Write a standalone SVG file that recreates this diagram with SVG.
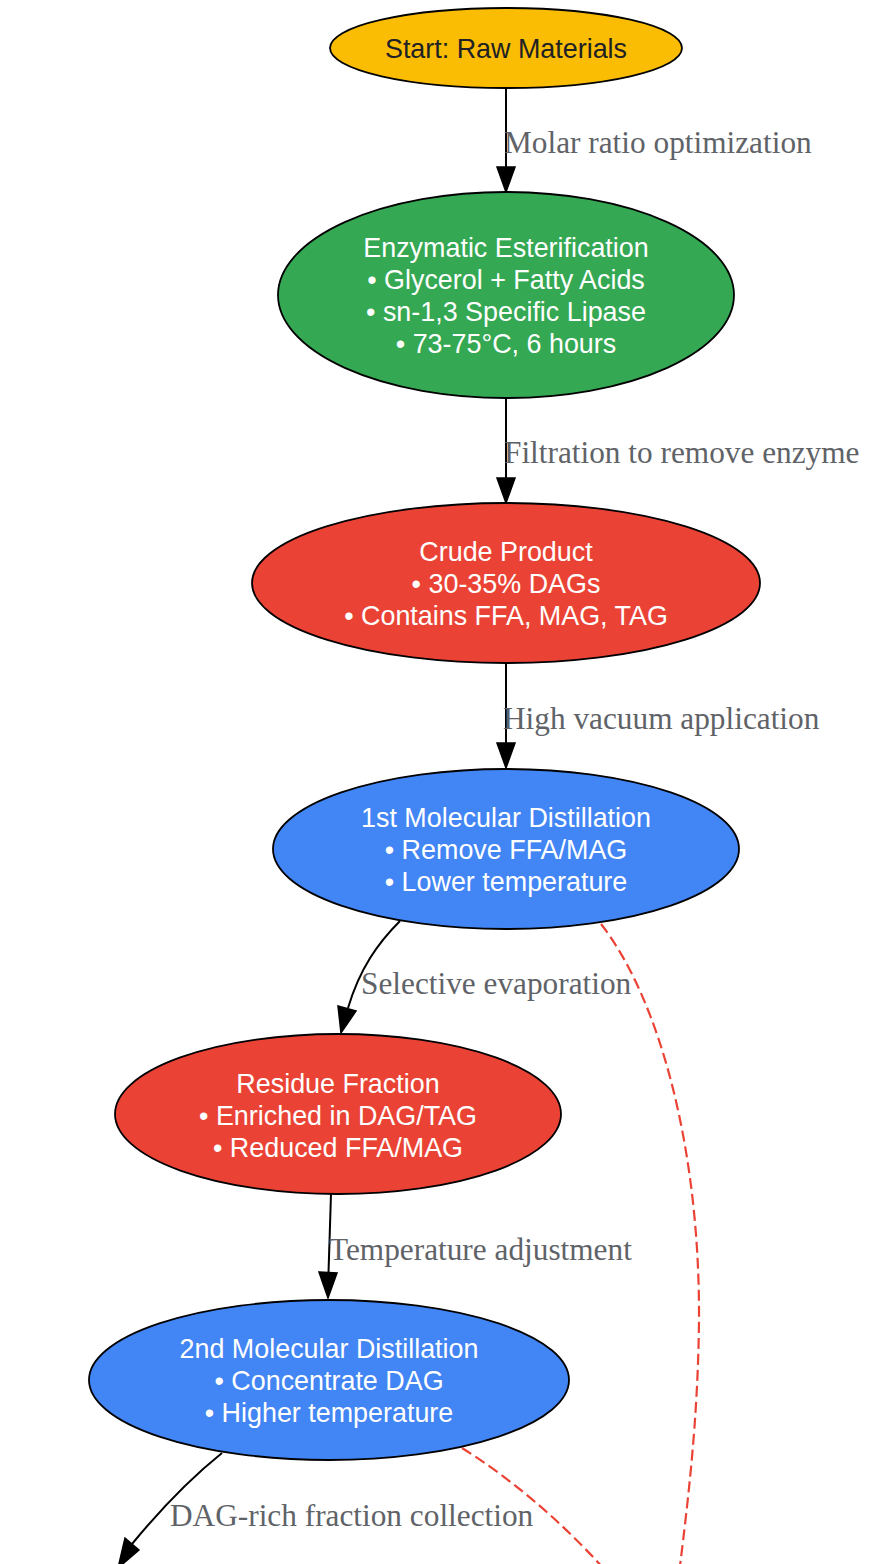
<svg xmlns="http://www.w3.org/2000/svg" width="870" height="1564" viewBox="0 0 870 1564">
<style>
.node ellipse{stroke:#000;stroke-width:1.8}
.nt{font-family:"Liberation Sans",Arial,sans-serif;font-size:26.9px;text-anchor:middle;fill:#fff}
.el{font-family:"Liberation Serif","Times New Roman",serif;font-size:31.3px;fill:#5f6368}
.edge{fill:none;stroke:#000;stroke-width:2}
.dash{fill:none;stroke:#ea4335;stroke-width:2.2;stroke-dasharray:11,5}
.ah{fill:#000;stroke:#000;stroke-width:1.5}
</style>
<rect width="870" height="1564" fill="#fff"/>
<g id="connectors">
  <path class="edge" d="M506,88 L506,167"/>
  <polygon class="ah" points="497,167 515,167 506,192"/>
  <text class="el" x="504" y="153">Molar ratio optimization</text>

  <path class="edge" d="M506,398 L506,478"/>
  <polygon class="ah" points="497,478 515,478 506,503"/>
  <text class="el" x="504" y="463">Filtration to remove enzyme</text>

  <path class="edge" d="M506,663 L506,743"/>
  <polygon class="ah" points="497,743 515,743 506,768"/>
  <text class="el" x="503" y="729">High vacuum application</text>

  <path class="edge" d="M400,921 C378,943 360,968 348,1008"/>
  <polygon class="ah" points="338,1006 356,1011 341,1033"/>
  <text class="el" x="361" y="994">Selective evaporation</text>

  <path class="edge" d="M331,1194 L328.5,1273"/>
  <polygon class="ah" points="319,1272 337,1273 328,1298"/>
  <text class="el" x="329" y="1260">Temperature adjustment</text>

  <path class="edge" d="M222,1453 C192,1477 160,1510 132,1544"/>
  <polygon class="ah" points="125,1538 139,1550 118,1568"/>
  <text class="el" x="170" y="1526">DAG-rich fraction collection</text>

  <path class="dash" d="M601,924 C660,1000 700,1150 699,1320 C698,1420 688,1500 680,1566"/>
  <path class="dash" d="M462,1448 C510,1478 560,1520 605,1570"/>
</g>
<g id="start" class="node">
  <ellipse cx="506" cy="48" rx="176" ry="40" fill="#fbbc04"/>
  <text class="nt" x="506" y="58" style="fill:#202124">Start: Raw Materials</text>
</g>
<g id="esterification" class="node">
  <ellipse cx="506" cy="295" rx="228" ry="103" fill="#34a853"/>
  <text class="nt" x="506" y="257">Enzymatic Esterification</text>
  <text class="nt" x="506" y="289">• Glycerol + Fatty Acids</text>
  <text class="nt" x="506" y="321">• sn-1,3 Specific Lipase</text>
  <text class="nt" x="506" y="353">• 73-75°C, 6 hours</text>
</g>
<g id="crude" class="node">
  <ellipse cx="506" cy="583" rx="254" ry="80" fill="#ea4335"/>
  <text class="nt" x="506" y="561">Crude Product</text>
  <text class="nt" x="506" y="593">• 30-35% DAGs</text>
  <text class="nt" x="506" y="625">• Contains FFA, MAG, TAG</text>
</g>
<g id="md1" class="node">
  <ellipse cx="506" cy="849" rx="233" ry="80" fill="#4285f4"/>
  <text class="nt" x="506" y="827">1st Molecular Distillation</text>
  <text class="nt" x="506" y="859">• Remove FFA/MAG</text>
  <text class="nt" x="506" y="891">• Lower temperature</text>
</g>
<g id="residue" class="node">
  <ellipse cx="338" cy="1114" rx="223" ry="80" fill="#ea4335"/>
  <text class="nt" x="338" y="1093">Residue Fraction</text>
  <text class="nt" x="338" y="1125">• Enriched in DAG/TAG</text>
  <text class="nt" x="338" y="1157">• Reduced FFA/MAG</text>
</g>
<g id="md2" class="node">
  <ellipse cx="329" cy="1380" rx="240" ry="80" fill="#4285f4"/>
  <text class="nt" x="329" y="1358">2nd Molecular Distillation</text>
  <text class="nt" x="329" y="1390">• Concentrate DAG</text>
  <text class="nt" x="329" y="1422">• Higher temperature</text>
</g>
</svg>
